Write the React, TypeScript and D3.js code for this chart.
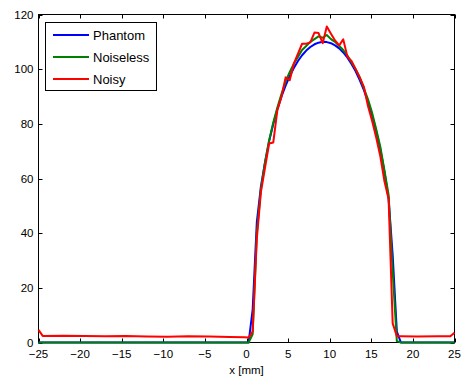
import React from 'react';
import * as d3 from 'd3';

const W = 466;
const H = 381;

const xTicks = [-25, -20, -15, -10, -5, 0, 5, 10, 15, 20, 25];
const yTicks = [0, 20, 40, 60, 80, 100, 120];
const xLabel = 'x [mm]';
const seriesNames = ['Phantom', 'Noiseless', 'Noisy'];
const seriesColors = ['#0000ff', '#008000', '#ff0000'];

// sample positions inside the object (mm)
const gridX = [0.25, 0.74, 1.24, 1.73, 2.23, 2.72, 3.22, 3.71, 4.21, 4.70, 5.20, 5.69, 6.19, 6.68, 7.18, 7.67, 8.17, 8.66, 9.16, 9.65,
  10.15, 10.64, 11.14, 11.63, 12.13, 12.62, 13.12, 13.61, 14.11, 14.60, 15.10, 15.59, 16.09, 16.58, 17.08, 17.57, 18.07, 18.56];

const phantomY = [0, 12, 44, 57.0, 66.1, 73.6, 79.9, 85.3, 90.0, 94.0, 97.5, 100.4, 103.0, 105.1, 106.8, 108.1, 109.1, 109.7, 110.0, 109.9,
  109.5, 108.7, 107.6, 106.1, 104.2, 101.9, 99.2, 96.0, 92.3, 88.1, 83.1, 77.3, 70.6, 62.5, 52.5, 32, 4, 0];

const noiselessY = [0, 3, 40, 56, 66, 74, 80.5, 86, 91, 95.5, 99, 102, 104.5, 107, 108.5, 110, 111, 112, 111.5, 112.5,
  111, 110, 108.5, 107, 105, 102.5, 100, 97, 93, 89, 84, 78, 71.5, 63, 54, 26, 0.5, 0];

const noisyY = [1.8, 4, 38, 55, 64, 72.8, 73.2, 85, 90, 97, 96, 102, 105.7, 109.3, 109.3, 109.8, 113.4, 113.2, 109.5, 115.6,
  113, 110.5, 108.7, 110.9, 104.5, 103, 100, 97, 93.5, 86.5, 81, 75, 68, 59, 52.5, 7, 2.3, 2.3];

// background (outside the object)
const flatLeftX = [-25];
const flatLeftY = [0];
const flatRightX = [25];
const flatRightY = [0];
const noisyLeftX = [-25, -24.5, -22, -19.5, -17, -14.5, -12, -9.5, -7, -4.5, -2, -0.25];
const noisyLeftY = [4.6, 2.4, 2.5, 2.4, 2.3, 2.4, 2.2, 2.1, 2.3, 2.2, 2.0, 1.9];
const noisyRightX = [20.5, 23, 24.5, 25];
const noisyRightY = [2.2, 2.3, 2.3, 3.6];

const FONT = '"Liberation Sans", Arial, Helvetica, sans-serif';

function pts(xs: number[], ys: number[]): [number, number][] {
  return xs.map((x, i) => [x, ys[i]] as [number, number]);
}

export default function App() {
  const x0 = 38.5, x1 = 454.5, y0 = 342.5, y1 = 14.5;
  const x = d3.scaleLinear().domain([-25, 25]).range([x0, x1]);
  const y = d3.scaleLinear().domain([0, 120]).range([y0, y1]);
  const line = d3.line<[number, number]>().x(d => x(d[0])).y(d => y(d[1]));

  const series = [
    [...pts(flatLeftX, flatLeftY), ...pts(gridX, phantomY), ...pts(flatRightX, flatRightY)],
    [...pts(flatLeftX, flatLeftY), ...pts(gridX, noiselessY), ...pts(flatRightX, flatRightY)],
    [...pts(noisyLeftX, noisyLeftY), ...pts(gridX, noisyY), ...pts(noisyRightX, noisyRightY)],
  ];

  const tickLen = 4;
  const fmt = (v: number) => (v < 0 ? '\u2212' + Math.abs(v) : String(v));

  return (
    <svg width={W} height={H} style={{ position: 'absolute', left: 0, top: 0, background: '#fff' }}
      fontFamily={FONT}>
      <rect x={0} y={0} width={W} height={H} fill="#fff" />
      <rect x={x0} y={y1} width={x1 - x0} height={y0 - y1} fill="#fff" stroke="#000" strokeWidth={1} />
      {xTicks.map(t => (
        <g key={'xt' + t}>
          <line x1={Math.round(x(t)) + 0.5} x2={Math.round(x(t)) + 0.5} y1={y0} y2={y0 - tickLen} stroke="#000" />
          <line x1={Math.round(x(t)) + 0.5} x2={Math.round(x(t)) + 0.5} y1={y1} y2={y1 + tickLen} stroke="#000" />
          <text x={x(t)} y={357.5} fontSize={11.5} textAnchor="middle" fill="#000">{fmt(t)}</text>
        </g>
      ))}
      {yTicks.map(t => (
        <g key={'yt' + t}>
          <line x1={x0} x2={x0 + tickLen} y1={Math.round(y(t)) + 0.5} y2={Math.round(y(t)) + 0.5} stroke="#000" />
          <line x1={x1} x2={x1 - tickLen} y1={Math.round(y(t)) + 0.5} y2={Math.round(y(t)) + 0.5} stroke="#000" />
          <text x={33.5} y={y(t) + 4} fontSize={11.5} textAnchor="end" fill="#000">{t}</text>
        </g>
      ))}
      <text x={(x0 + x1) / 2} y={374} fontSize={11.5} textAnchor="middle" fill="#000">{xLabel}</text>
      {series.map((s, i) => (
        <path key={'s' + i} d={line(s) || ''} fill="none" stroke={seriesColors[i]} strokeWidth={2}
          strokeLinejoin="round" strokeLinecap="butt" />
      ))}
      <rect x={45.5} y={22.5} width={111} height={68} fill="#fff" stroke="#000" strokeWidth={1} />
      {seriesNames.map((n, i) => (
        <g key={'lg' + i}>
          <line x1={53} x2={89} y1={35 + i * 22} y2={35 + i * 22} stroke={seriesColors[i]} strokeWidth={2} />
          <text x={93} y={35 + i * 22 + 4.5} fontSize={13} fill="#000">{n}</text>
        </g>
      ))}
    </svg>
  );
}
